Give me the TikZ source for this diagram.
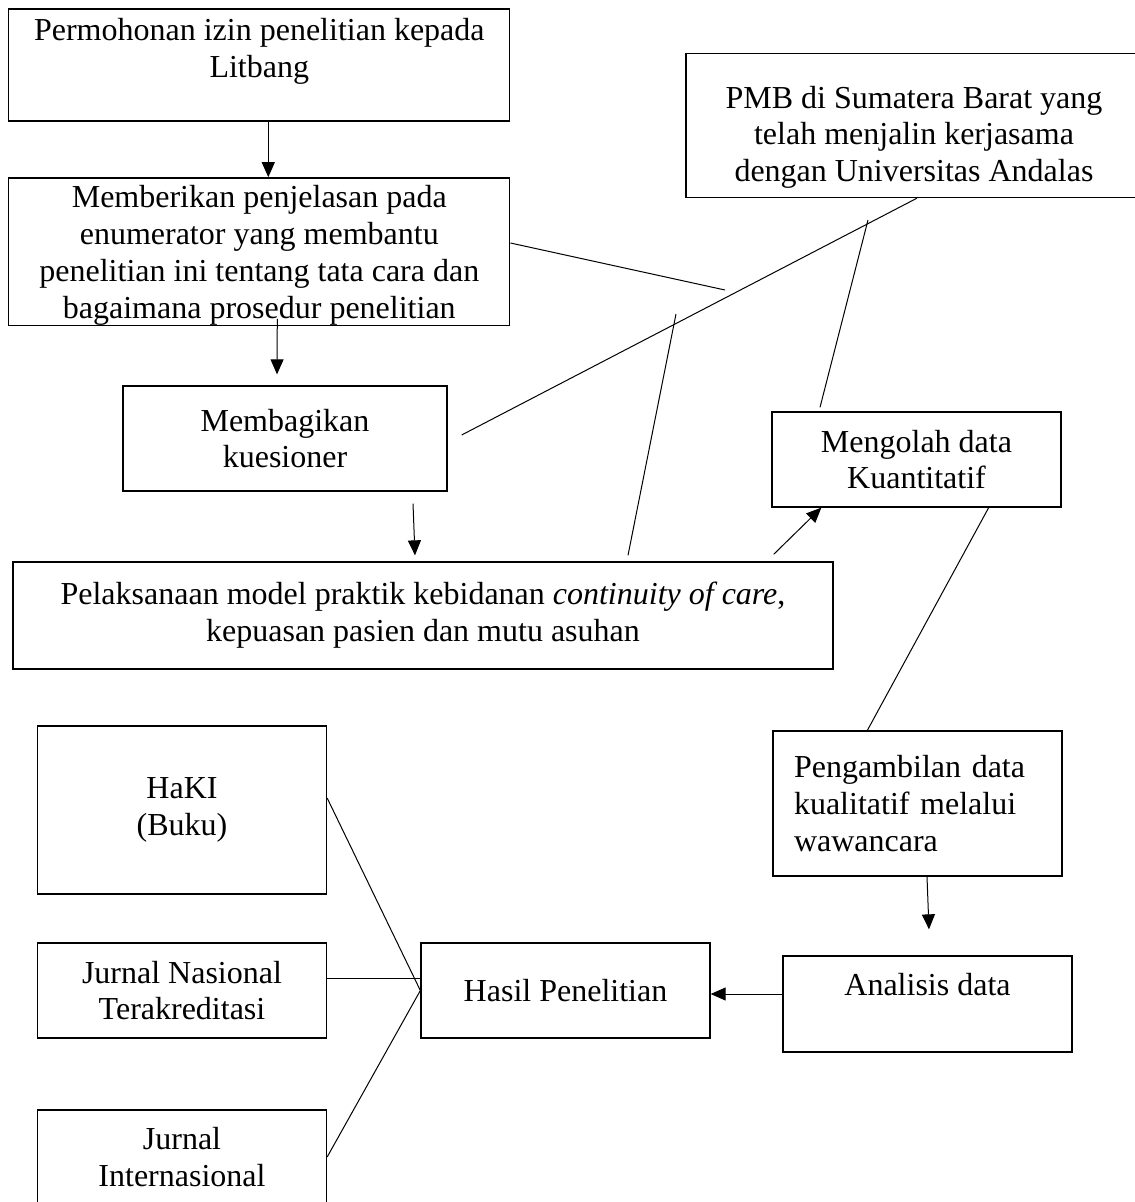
\documentclass[tikz,border=0pt]{standalone}
\usepackage{fontspec}
\setmainfont{Liberation Serif}
\usetikzlibrary{arrows.meta}
\newcommand{\padtop}[1]{\rule{0pt}{#1}}
\newcommand{\padbottom}[1]{\rule[-#1]{0pt}{#1}}
\tikzset{
    basic/.style  = {draw, rectangle, line width=1.3pt, inner sep=0pt, font=\fontsize{32}{36.8}\selectfont},
    box/.style    = {basic, align=center},
    left box/.style = {basic, align=left, inner xsep=21pt, text width=247pt},
    link/.style   = {line width=1pt},
    flow/.style   = {link, ->}
}
\begin{document}
\begin{tikzpicture}[x=1pt, y=-1pt, >={Triangle[length=15pt,width=13pt]}]
	\clip (0,0) rectangle (1135,1202);
	\fill[white] (0,0) rectangle (1135,1202);
	\node[box, minimum width=501, minimum height=112] (permohonan) at (259.3,65) {Permohonan izin penelitian kepada\\Litbang\padbottom{35pt}};
	\node[box, minimum width=501, minimum height=147] (penjelasan) at (259.3,251.5) {\padtop{30pt}Memberikan penjelasan pada\\enumerator yang membantu\\penelitian ini tentang tata cara dan\\bagaimana prosedur penelitian};
	\node[box, minimum width=324, minimum height=105] (kuesioner) at (285,438.5) {Membagikan\\kuesioner};
	\node[box, minimum width=820, minimum height=107] (pelaksanaan) at (423,615.5) {Pelaksanaan model praktik kebidanan \textit{continuity of care},\\kepuasan pasien dan mutu asuhan};
	\node[box, minimum width=456, minimum height=144] (pmb) at (914,125.5) {\padtop{45.6pt}PMB di Sumatera Barat yang\\telah menjalin kerjasama\\dengan Universitas Andalas};
	\node[box, minimum width=289, minimum height=95] (kuantitatif) at (916.5,459.5) {Mengolah data\\Kuantitatif};
	\node[left box, minimum width=289, minimum height=145] (kualitatif) at (917.5,803.5) {Pengambilan data\\kualitatif melalui\\wawancara};
	\node[box, minimum width=289, minimum height=96] (analisis) at (927.5,1004) {Analisis data\padbottom{40pt}};
	\node[box, minimum width=289, minimum height=95] (hasil) at (565.5,990.5) {Hasil Penelitian};
	\node[box, minimum width=289, minimum height=168] (haki) at (182,810) {HaKI\\(Buku)};
	\node[box, minimum width=289, minimum height=95] (nasional) at (182,990.5) {Jurnal Nasional\\Terakreditasi};
	\node[box, minimum width=289, minimum height=94] (internasional) at (182,1157) {Jurnal\\Internasional};

	\coordinate (k1) at (725,290);
	\coordinate (k2) at (676,314);
	\coordinate (k3) at (868,220);

	\draw[flow] ([xshift=9pt]permohonan.south) -- ([xshift=9pt]penjelasan.north);
	\draw[flow] ([xshift=18pt,yshift=7pt]penjelasan.south) -- ([xshift=-8pt,yshift=11pt]kuesioner.north);
	\draw[flow] ([xshift=128pt,yshift=-12pt]kuesioner.south) -- ([xshift=-8pt,yshift=6pt]pelaksanaan.north);
	\draw[flow] ([xshift=-60pt,yshift=7pt]pelaksanaan.north east) -- ([xshift=50pt]kuantitatif.south west);
	\draw[link] ([xshift=-73pt]kuantitatif.south east) -- ([xshift=95pt]kualitatif.north west);
	\draw[flow] ([xshift=9.5pt]kualitatif.south) -- ([xshift=1.5pt,yshift=26pt]analisis.north);
	\draw[flow] ([yshift=10pt]analisis.west) -- ([yshift=-3.5pt]hasil.east);

	\draw[link] ([yshift=12pt]haki.east) -- (hasil.west);
	\draw[link] ([yshift=12.5pt]nasional.east) -- ([yshift=12.5pt]hasil.west);
	\draw[link] (internasional.east) -- (hasil.west);

	\draw[link] ([yshift=8.5pt]penjelasan.east) -- (k1);
	\draw[link] ([xshift=14pt,yshift=3.5pt]kuesioner.east) -- ([xshift=3pt]pmb.south);
	\draw[link] (k2) -- ([xshift=205pt,yshift=6pt]pelaksanaan.north);
	\draw[link] (k3) -- ([xshift=-96.5pt,yshift=4pt]kuantitatif.north);
\end{tikzpicture}
\end{document}
